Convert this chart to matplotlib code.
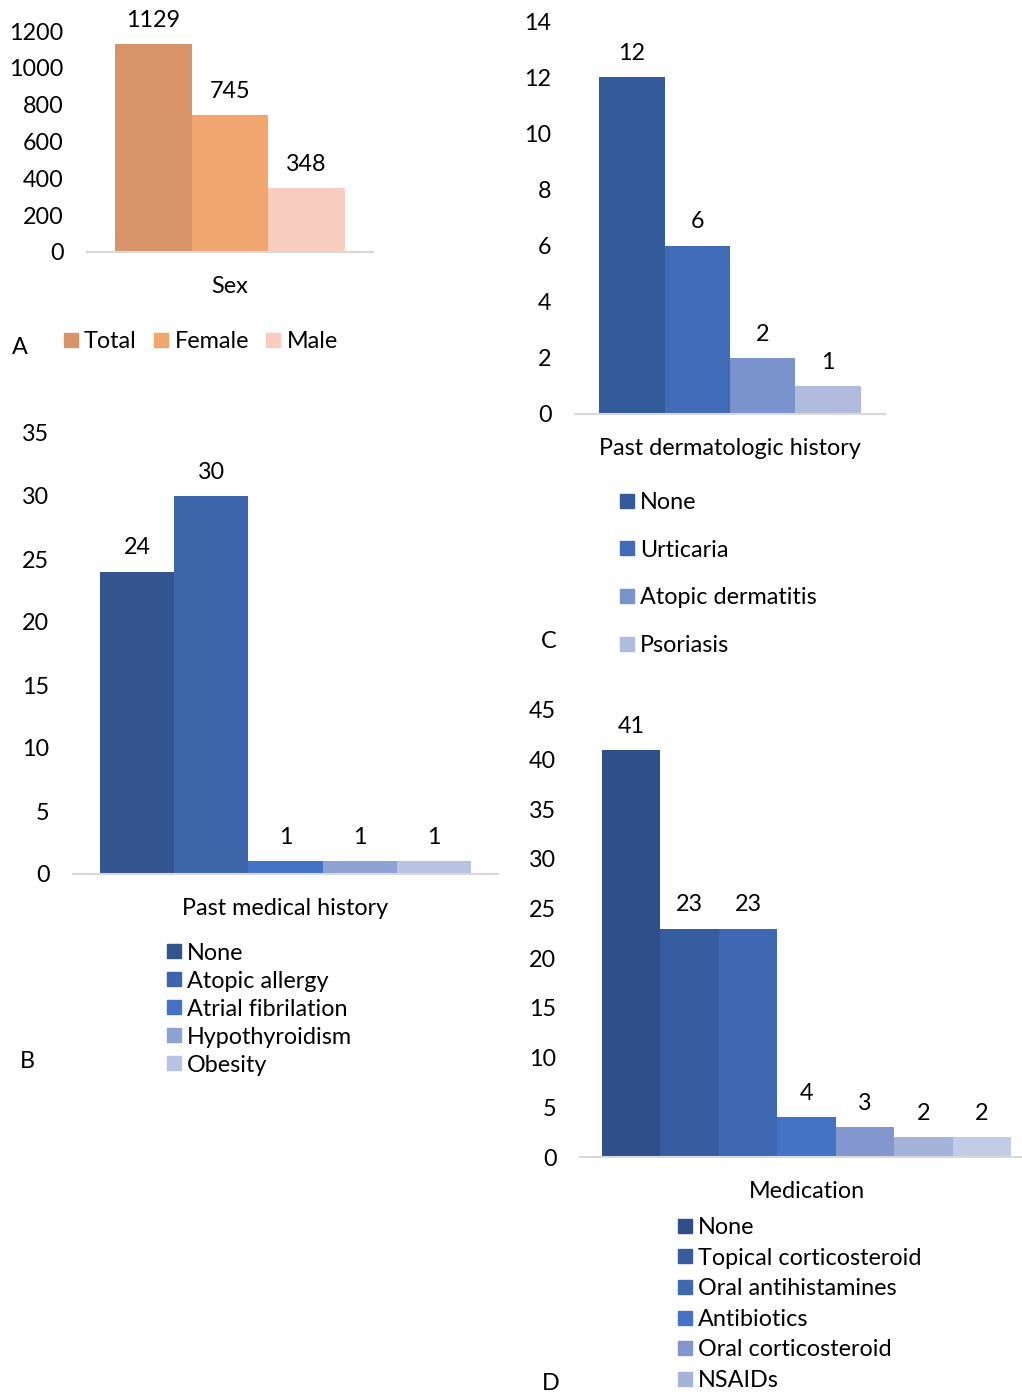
import matplotlib
matplotlib.use('Agg')
import matplotlib.pyplot as plt
from matplotlib.patches import Patch

plt.rcParams['font.family'] = ['Lato', 'DejaVu Sans']
plt.rcParams['font.size'] = 16.8

# A - sex
sex_labels = ['Total', 'Female', 'Male']
sex_values = [1129, 745, 348]
sex_colors = ['#D79468', '#F1A56F', '#F8CCBE']

# C - past dermatologic history
derm_labels = ['None', 'Urticaria', 'Atopic dermatitis', 'Psoriasis']
derm_values = [12, 6, 2, 1]
derm_colors = ['#335A99', '#3F6BB7', '#7B93CD', '#B1BCDC']

# B - past medical history
pmh_labels = ['None', 'Atopic allergy', 'Atrial fibrilation', 'Hypothyroidism', 'Obesity']
pmh_values = [24, 30, 1, 1, 1]
pmh_colors = ['#33548F', '#3D65AA', '#4472C4', '#8EA1D3', '#B8C2E1']

# D - medication (last legend entry is cut off in the source)
med_labels = ['None', 'Topical corticosteroid', 'Oral antihistamines', 'Antibiotics',
              'Oral corticosteroid', 'NSAIDs', None]
med_values = [41, 23, 23, 4, 3, 2, 2]
med_colors = ['#2F4F8A', '#375DA1', '#3E69B2', '#4472C4', '#8397CE', '#A5B3DA', '#C2CCE6']

W, H = 1022, 1394
fig = plt.figure(figsize=(W / 100, H / 100), dpi=100)


def px_axes(x0, x1, ytop, ybot):
    return fig.add_axes([x0 / W, 1 - ybot / H, (x1 - x0) / W, (ybot - ytop) / H])


def bar_panel(ax, values, colors, cat, ymax, step, margin=0.37):
    n = len(values)
    for i, (v, c) in enumerate(zip(values, colors)):
        ax.bar(i, v, width=1.0, color=c)
        ax.annotate(str(v), (i, v), xytext=(0, 17), textcoords='offset points',
                    ha='center', va='center')
    ax.set_ylim(0, ymax)
    ax.set_yticks(range(0, ymax + 1, step))
    ax.set_xlim(-0.5 - margin, n - 0.5 + margin)
    ax.set_xticks([(n - 1) / 2])
    ax.set_xticklabels([cat])
    for s in ['top', 'right', 'left']:
        ax.spines[s].set_visible(False)
    ax.spines['bottom'].set_color('#D9D9D9')
    ax.spines['bottom'].set_linewidth(1.5)
    ax.tick_params(axis='both', length=0)
    ax.tick_params(axis='y', pad=17)
    ax.tick_params(axis='x', pad=17)


def add_legend(ax, labels, colors, x, y, ncol=1, spacing=0.3, colspace=0.75):
    handles = [Patch(color=c, label=l) for l, c in zip(labels, colors) if l]
    ax.legend(handles=handles, ncol=ncol, loc='center left',
              bbox_to_anchor=(x / W, 1 - y / H), bbox_transform=fig.transFigure,
              frameon=False, handlelength=0.6, handleheight=0.55, handletextpad=0.26,
              labelspacing=spacing, columnspacing=colspace, borderpad=0, borderaxespad=0)


ax1 = px_axes(87, 373, 31, 252)
bar_panel(ax1, sex_values, sex_colors, 'Sex', 1200, 200)
add_legend(ax1, sex_labels, sex_colors, 64, 342, ncol=3)

ax2 = px_axes(575, 885, 21, 414)
bar_panel(ax2, derm_values, derm_colors, 'Past dermatologic history', 14, 2)
add_legend(ax2, derm_labels, derm_colors, 620, 574, spacing=1.14)

ax3 = px_axes(73, 498, 433, 874)
bar_panel(ax3, pmh_values, pmh_colors, 'Past medical history', 35, 5)
add_legend(ax3, pmh_labels, pmh_colors, 167, 1009, spacing=0.3)

ax4 = px_axes(580, 1033, 710, 1157)
bar_panel(ax4, med_values, med_colors, 'Medication', 45, 5)
add_legend(ax4, med_labels, med_colors, 678, 1304, spacing=0.41)

for letter, x, y in [('A', 20, 347), ('C', 549, 642), ('B', 27, 1062), ('D', 551, 1383)]:
    fig.text(x / W, 1 - y / H, letter, ha='center', va='center')

fig.savefig('out.png', dpi=100)
